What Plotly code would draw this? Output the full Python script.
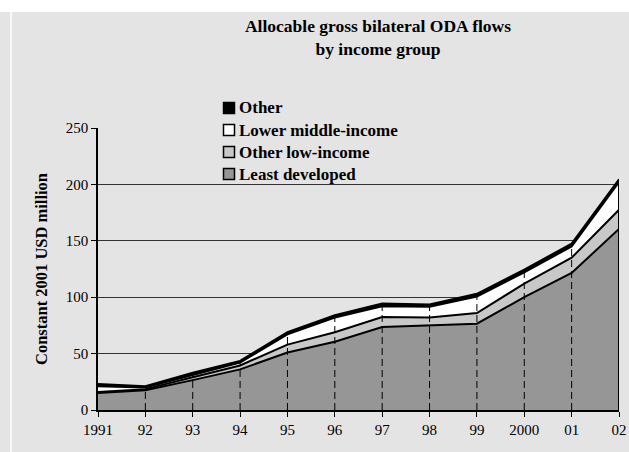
import plotly.graph_objects as go

years = ["1991", "92", "93", "94", "95", "96", "97", "98", "99", "2000", "01", "02"]
least_developed = [15, 17.5, 26.5, 36, 51, 60.5, 73.5, 75, 76.5, 100, 121.5, 160.5]
other_low_income = [1, 1, 2.5, 3.5, 7, 8.5, 9, 7, 9.5, 12, 13.5, 17]
lower_middle_income = [5, 1.5, 2, 2.5, 9, 13, 9.5, 9.5, 14.5, 10, 10, 24.5]
other = [2, 1, 2, 1.5, 2, 2, 2.5, 2, 2.5, 2.5, 2.5, 2.5]

series_names = ["Least developed", "Other low-income", "Lower middle-income", "Other"]
series_values = [least_developed, other_low_income, lower_middle_income, other]
series_colors = ["#969696", "#c8c8c8", "#ffffff", "#000000"]

BG = "#e4e4e4"
FONT = "Liberation Serif"

# plot area in pixels
W, H = 629, 452
L, R, T, B = 98, 10, 128, 42
pw, ph = W - L - R, H - T - B


def px_x(p):
    return (p - L) / pw


def px_y(p):
    return (H - B - p) / ph


fig = go.Figure()

for name, vals, col in zip(series_names, series_values, series_colors):
    fig.add_trace(go.Scatter(
        x=years, y=vals, stackgroup="one", mode="lines",
        line=dict(color="black", width=2), fillcolor=col,
        name=name, showlegend=False, hoverinfo="skip",
    ))

totals = [sum(v) for v in zip(*series_values)]

# drop lines
dx, dy = [], []
for i, (yr, tot) in enumerate(zip(years, totals)):
    if i in (0, len(years) - 1):
        continue
    dx += [yr, yr, None]
    dy += [0, tot, None]
fig.add_trace(go.Scatter(x=dx, y=dy, mode="lines", line=dict(color="black", width=1, dash="7px,4px"),
                         showlegend=False, hoverinfo="skip"))
fig.add_trace(go.Scatter(x=[years[-1], years[-1]], y=[0, totals[-1]], mode="lines",
                         line=dict(color="black", width=2), showlegend=False, hoverinfo="skip"))

shapes = [
    # white top band
    dict(type="rect", xref="paper", yref="paper", x0=px_x(0), x1=px_x(W), y0=px_y(0), y1=px_y(12),
         fillcolor="white", line=dict(width=0), layer="below"),
    # white vertical line
    dict(type="line", xref="paper", yref="paper", x0=px_x(11), x1=px_x(11), y0=px_y(12), y1=px_y(H),
         line=dict(color="white", width=1.5), layer="below"),
    # legend background covering gridline
    dict(type="rect", xref="paper", yref="paper", x0=px_x(175), x1=px_x(450), y0=px_y(95), y1=px_y(182),
         fillcolor=BG, line=dict(width=0), layer="between"),
]

annotations = []
# custom legend (top to bottom: Other, Lower middle-income, Other low-income, Least developed)
leg_top = 108
for k, (name, col) in enumerate(zip(reversed(series_names), reversed(series_colors))):
    cy = leg_top + 22 * k
    shapes.append(dict(type="rect", xref="paper", yref="paper",
                       x0=px_x(223.5), x1=px_x(234.5), y0=px_y(cy - 5.5), y1=px_y(cy + 5.5),
                       fillcolor=col, line=dict(color="black", width=1.5), layer="above"))
    annotations.append(dict(text="<b>%s</b>" % name, xref="paper", yref="paper",
                            x=px_x(237), y=px_y(cy), xanchor="left", yanchor="middle",
                            showarrow=False, font=dict(family=FONT, size=17, color="black")))

fig.update_layout(
    width=W, height=H,
    margin=dict(l=L, r=R, t=T, b=B, autoexpand=False),
    paper_bgcolor=BG, plot_bgcolor=BG,
    font=dict(family=FONT, color="black", size=14),
    title=dict(
        text="<b>Allocable gross bilateral ODA flows<br>by income group</b>",
        x=378 / W, xanchor="center", y=1 - 32 / H, yanchor="top", yref="container",
        font=dict(family=FONT, size=17.5, color="black"),
    ),
    showlegend=False,
    xaxis=dict(
        type="category", range=[0, len(years) - 1], showgrid=False, automargin=False,
        showline=True, linecolor="black", linewidth=2,
        ticks="outside", ticklen=5, tickcolor="black", tickwidth=1,
        tickfont=dict(family=FONT, size=15, color="black"),
        zeroline=False,
    ),
    yaxis=dict(
        range=[0, 250], tickvals=[0, 50, 100, 150, 200, 250], automargin=False,
        showgrid=True, gridcolor="#333333", gridwidth=1,
        showline=True, linecolor="black", linewidth=1.5,
        ticks="outside", ticklen=5, tickcolor="black",
        tickfont=dict(family=FONT, size=15, color="black"),
        zeroline=False,
        title=dict(text="<b>Constant 2001 USD million</b>", font=dict(family=FONT, size=16.5, color="black"),
                   standoff=14),
    ),
    shapes=shapes,
    annotations=annotations,
)

fig.write_html("out.html")
